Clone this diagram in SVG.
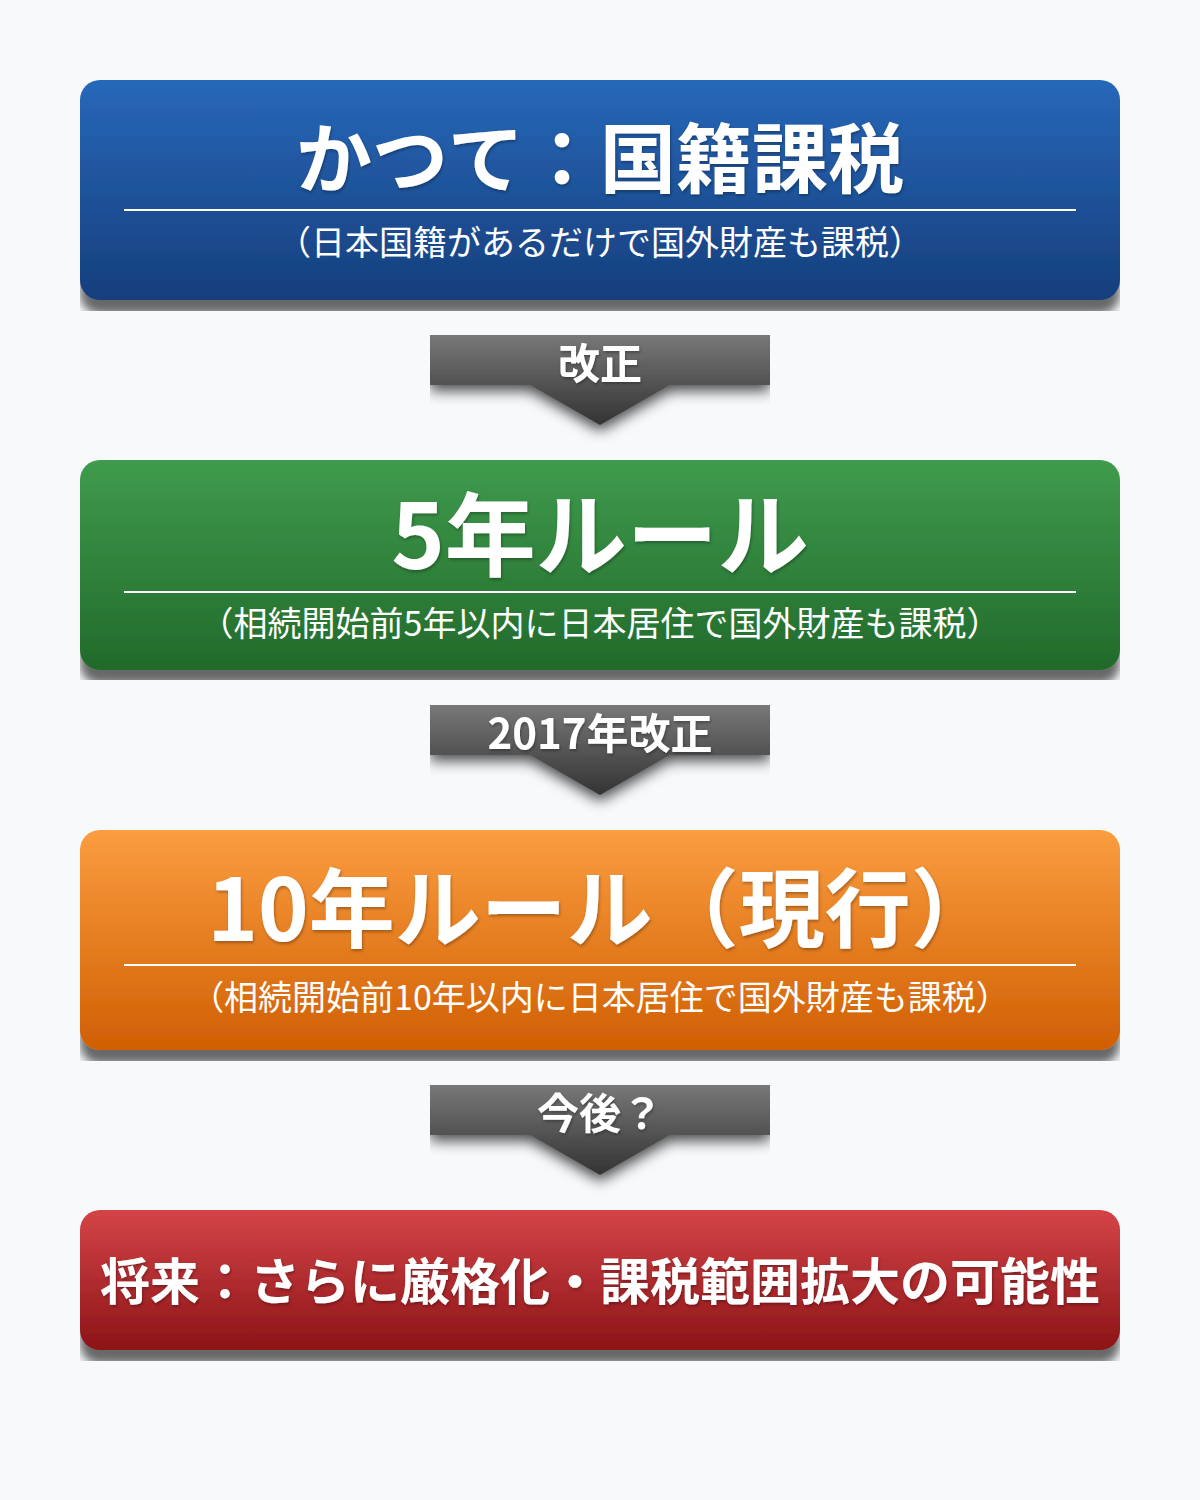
<svg xmlns="http://www.w3.org/2000/svg" width="1200" height="1500" viewBox="0 0 1200 1500">
<defs>
<style>
.title{font-family:"Noto Sans CJK JP","Noto Sans",sans-serif;font-weight:700;fill:#fff;text-anchor:middle}
.sub{font-family:"Noto Sans CJK JP","Noto Sans",sans-serif;font-weight:400;fill:#fff;text-anchor:middle;font-size:34px}
.lbl{font-family:"Noto Sans CJK JP","Noto Sans",sans-serif;font-weight:700;fill:#fff;text-anchor:middle;font-size:42px}
.rule{stroke:#fff;stroke-width:2}
</style>
<linearGradient id="gBlue" x1="0" y1="0" x2="0" y2="1"><stop offset="0" stop-color="#2768b9"/><stop offset="1" stop-color="#163e7c"/></linearGradient>
<linearGradient id="gGreen" x1="0" y1="0" x2="0" y2="1"><stop offset="0" stop-color="#3f9b4d"/><stop offset="1" stop-color="#226a2b"/></linearGradient>
<linearGradient id="gOrange" x1="0" y1="0" x2="0" y2="1"><stop offset="0" stop-color="#fb9d40"/><stop offset="1" stop-color="#d05f03"/></linearGradient>
<linearGradient id="gRed" x1="0" y1="0" x2="0" y2="1"><stop offset="0" stop-color="#d44447"/><stop offset="1" stop-color="#8c1417"/></linearGradient>
<linearGradient id="gArrow" x1="0" y1="0" x2="0" y2="1"><stop offset="0" stop-color="#787878"/><stop offset="1" stop-color="#333"/></linearGradient>
<filter id="shBox" x="0" y="0" width="1" height="1.046">
<feGaussianBlur in="SourceAlpha" stdDeviation="5"/>
<feOffset dy="14" result="b"/>
<feFlood flood-color="#000" flood-opacity="0.58"/>
<feComposite in2="b" operator="in"/>
<feMerge><feMergeNode/><feMergeNode in="SourceGraphic"/></feMerge>
</filter>
<filter id="shBox4" x="0" y="0" width="1" height="1.072">
<feGaussianBlur in="SourceAlpha" stdDeviation="5"/>
<feOffset dy="14" result="b"/>
<feFlood flood-color="#000" flood-opacity="0.58"/>
<feComposite in2="b" operator="in"/>
<feMerge><feMergeNode/><feMergeNode in="SourceGraphic"/></feMerge>
</filter>
<filter id="shArrow" x="0" y="0" width="1" height="1.3">
<feGaussianBlur in="SourceAlpha" stdDeviation="7"/>
<feOffset dy="6" result="b"/>
<feFlood flood-color="#000" flood-opacity="0.7"/>
<feComposite in2="b" operator="in"/>
<feMerge><feMergeNode/><feMergeNode in="SourceGraphic"/></feMerge>
</filter>
<filter id="shText" x="-5%" y="-20%" width="110%" height="140%">
<feGaussianBlur in="SourceAlpha" stdDeviation="1.5"/>
<feOffset dx="1" dy="2" result="b"/>
<feFlood flood-color="#000" flood-opacity="0.3"/>
<feComposite in2="b" operator="in"/>
<feMerge><feMergeNode/><feMergeNode in="SourceGraphic"/></feMerge>
</filter>
</defs>
<rect width="1200" height="1500" fill="#f7f9fb"/>

<g id="connectors">
<g id="arrow1">
<path d="M430 335H770V385H670L600 425L530 385H430Z" fill="url(#gArrow)" filter="url(#shArrow)"/>
<text class="lbl" x="600" y="379" filter="url(#shText)">改正</text>
</g>
<g id="arrow2">
<path d="M430 705H770V755H670L600 795L530 755H430Z" fill="url(#gArrow)" filter="url(#shArrow)"/>
<text class="lbl" x="600" y="749" filter="url(#shText)">2017年改正</text>
</g>
<g id="arrow3">
<path d="M430 1085H770V1135H670L600 1175L530 1135H430Z" fill="url(#gArrow)" filter="url(#shArrow)"/>
<text class="lbl" x="600" y="1129" filter="url(#shText)">今後？</text>
</g>
</g>

<g id="node-past">
<rect x="80" y="80" width="1040" height="220" rx="20" fill="url(#gBlue)" filter="url(#shBox)"/>
<text class="title" x="600" y="187" font-size="76" filter="url(#shText)">かつて：国籍課税</text>
<line class="rule" x1="124" y1="210" x2="1076" y2="210"/>
<text class="sub" x="600" y="255">（日本国籍があるだけで国外財産も課税）</text>
</g>

<g id="node-5year">
<rect x="80" y="460" width="1040" height="210" rx="20" fill="url(#gGreen)" filter="url(#shBox)"/>
<text class="title" x="600" y="569" font-size="91" filter="url(#shText)">5年ルール</text>
<line class="rule" x1="124" y1="592" x2="1076" y2="592"/>
<text class="sub" x="600" y="636">（相続開始前5年以内に日本居住で国外財産も課税）</text>
</g>

<g id="node-10year">
<rect x="80" y="830" width="1040" height="220" rx="20" fill="url(#gOrange)" filter="url(#shBox)"/>
<text class="title" x="602" y="941" font-size="86" filter="url(#shText)">10年ルール（現行）</text>
<line class="rule" x1="124" y1="965" x2="1076" y2="965"/>
<text class="sub" x="600" y="1010">（相続開始前10年以内に日本居住で国外財産も課税）</text>
</g>

<g id="node-future">
<rect x="80" y="1210" width="1040" height="140" rx="20" fill="url(#gRed)" filter="url(#shBox4)"/>
<text class="title" x="600" y="1300" font-size="50" filter="url(#shText)">将来：さらに厳格化・課税範囲拡大の可能性</text>
</g>
</svg>
